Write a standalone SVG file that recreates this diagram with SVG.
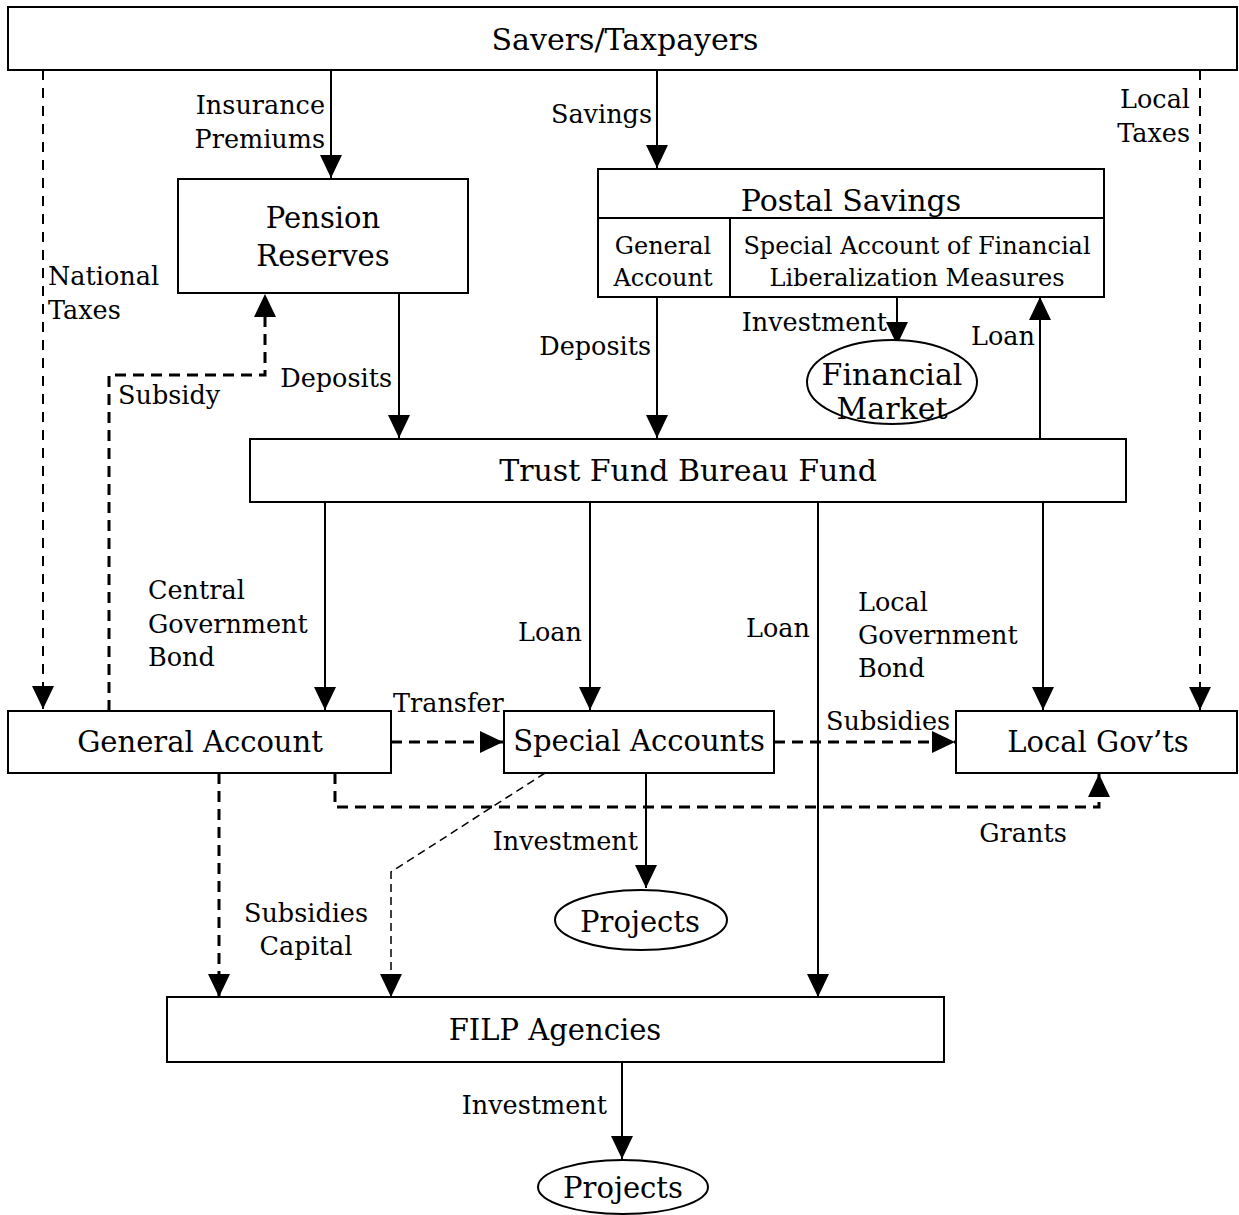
<svg xmlns="http://www.w3.org/2000/svg" width="1239" height="1215" viewBox="0 0 1239 1215">
<style>
.box{fill:#fff;stroke:#000;stroke-width:2}
.ln{fill:none;stroke:#000;stroke-width:2}
.dt{fill:none;stroke:#000;stroke-width:3;stroke-dasharray:11 7}
.dn{fill:none;stroke:#000;stroke-width:2;stroke-dasharray:10 8}
.df{fill:none;stroke:#000;stroke-width:1.5;stroke-dasharray:8 5}
text{font-family:"DejaVu Serif","Liberation Serif",serif;fill:#000}
.big{font-size:29px}
.bg2{font-size:30px}
.sm{font-size:25.5px}
.ps{font-size:24px}
.c{text-anchor:middle}
.e{text-anchor:end}
</style>
<defs>
<marker id="ah" markerUnits="userSpaceOnUse" markerWidth="24" markerHeight="22" viewBox="0 0 24 22" refX="23" refY="11" orient="auto">
<path d="M0,0 L23,11 L0,22 z" fill="#000"/>
</marker>
</defs>
<g id="connectors">
<path class="dn" d="M43,70 V709" marker-end="url(#ah)"/>
<path class="ln" d="M331,70 V178" marker-end="url(#ah)"/>
<path class="ln" d="M657,70 V168" marker-end="url(#ah)"/>
<path class="dn" d="M1200,70 V710" marker-end="url(#ah)"/>
<path class="ln" d="M897,297 V345" marker-end="url(#ah)"/>
<path class="ln" d="M1040,439 V297" marker-end="url(#ah)"/>
<path class="ln" d="M657,297 V438" marker-end="url(#ah)"/>
<path class="ln" d="M399,293 V438" marker-end="url(#ah)"/>
<path class="dt" d="M109,711 V375 H265 V294" marker-end="url(#ah)"/>
<path class="ln" d="M325,502 V710" marker-end="url(#ah)"/>
<path class="ln" d="M590,502 V710" marker-end="url(#ah)"/>
<path class="ln" d="M818,502 V997" marker-end="url(#ah)"/>
<path class="ln" d="M1043,502 V710" marker-end="url(#ah)"/>
<path class="dt" d="M391,742 H503" marker-end="url(#ah)"/>
<path class="dt" d="M774,742 H955" marker-end="url(#ah)"/>
<path class="dt" d="M335,773 V807 H1099 V774" marker-end="url(#ah)"/>
<path class="df" d="M545,773 L391,872 V997" marker-end="url(#ah)"/>
<path class="dt" d="M219,773 V997" marker-end="url(#ah)"/>
<path class="ln" d="M646,773 V888" marker-end="url(#ah)"/>
<path class="ln" d="M622,1062 V1159" marker-end="url(#ah)"/>
</g>
<g id="savers">
<rect class="box" x="8" y="7" width="1229" height="63"/>
<text class="bg2 c" x="625" y="50">Savers/Taxpayers</text>
</g>
<g id="pension">
<rect class="box" x="178" y="179" width="290" height="114"/>
<text class="big c" x="323" y="228">Pension</text>
<text class="big c" x="323" y="266">Reserves</text>
</g>
<g id="postal">
<rect class="box" x="598" y="169" width="506" height="128"/>
<path class="ln" d="M598,218 H1104 M730,218 V297"/>
<text class="bg2 c" x="851" y="211">Postal Savings</text>
<text class="ps c" x="663" y="254">General</text>
<text class="ps c" x="663" y="286">Account</text>
<text class="ps c" x="917" y="254">Special Account of Financial</text>
<text class="ps c" x="917" y="286">Liberalization Measures</text>
</g>
<g id="financial-market">
<ellipse class="box" cx="892" cy="382" rx="85" ry="42"/>
<text class="bg2 c" x="892" y="385">Financial</text>
<text class="bg2 c" x="892" y="419">Market</text>
</g>
<g id="trust-fund">
<rect class="box" x="250" y="439" width="876" height="63"/>
<text class="bg2 c" x="688" y="481">Trust Fund Bureau Fund</text>
</g>
<g id="general-account">
<rect class="box" x="8" y="711" width="383" height="62"/>
<text class="big c" x="200" y="752">General Account</text>
</g>
<g id="special-accounts">
<rect class="box" x="504" y="711" width="270" height="62"/>
<text class="big c" x="639" y="751">Special Accounts</text>
</g>
<g id="local-govts">
<rect class="box" x="956" y="711" width="281" height="62"/>
<text class="big c" x="1098" y="752">Local Gov’ts</text>
</g>
<g id="projects-1">
<ellipse class="box" cx="641" cy="920" rx="86" ry="30"/>
<text class="big c" x="640" y="932">Projects</text>
</g>
<g id="filp">
<rect class="box" x="167" y="997" width="777" height="65"/>
<text class="big c" x="555" y="1040">FILP Agencies</text>
</g>
<g id="projects-2">
<ellipse class="box" cx="623" cy="1187" rx="85" ry="27"/>
<text class="big c" x="623" y="1198">Projects</text>
</g>
<g id="labels">
<text class="sm" x="48" y="285">National</text>
<text class="sm" x="48" y="319">Taxes</text>
<text class="sm e" x="325" y="114">Insurance</text>
<text class="sm e" x="325" y="148">Premiums</text>
<text class="sm e" x="652" y="123">Savings</text>
<text class="sm e" x="1190" y="108">Local</text>
<text class="sm e" x="1190" y="142">Taxes</text>
<text class="sm e" x="887" y="331">Investment</text>
<text class="sm e" x="1035" y="345">Loan</text>
<text class="sm e" x="651" y="355">Deposits</text>
<text class="sm e" x="392" y="387">Deposits</text>
<text class="sm" x="118" y="404">Subsidy</text>
<text class="sm" x="148" y="599">Central</text>
<text class="sm" x="148" y="633">Government</text>
<text class="sm" x="148" y="666">Bond</text>
<text class="sm e" x="582" y="641">Loan</text>
<text class="sm e" x="810" y="637">Loan</text>
<text class="sm" x="858" y="611">Local</text>
<text class="sm" x="858" y="644">Government</text>
<text class="sm" x="858" y="677">Bond</text>
<text class="sm" x="393" y="712">Transfer</text>
<text class="sm" x="826" y="730">Subsidies</text>
<text class="sm c" x="1023" y="842">Grants</text>
<text class="sm e" x="638" y="850">Investment</text>
<text class="sm c" x="306" y="922">Subsidies</text>
<text class="sm c" x="306" y="955">Capital</text>
<text class="sm e" x="607" y="1114">Investment</text>
</g>
</svg>
